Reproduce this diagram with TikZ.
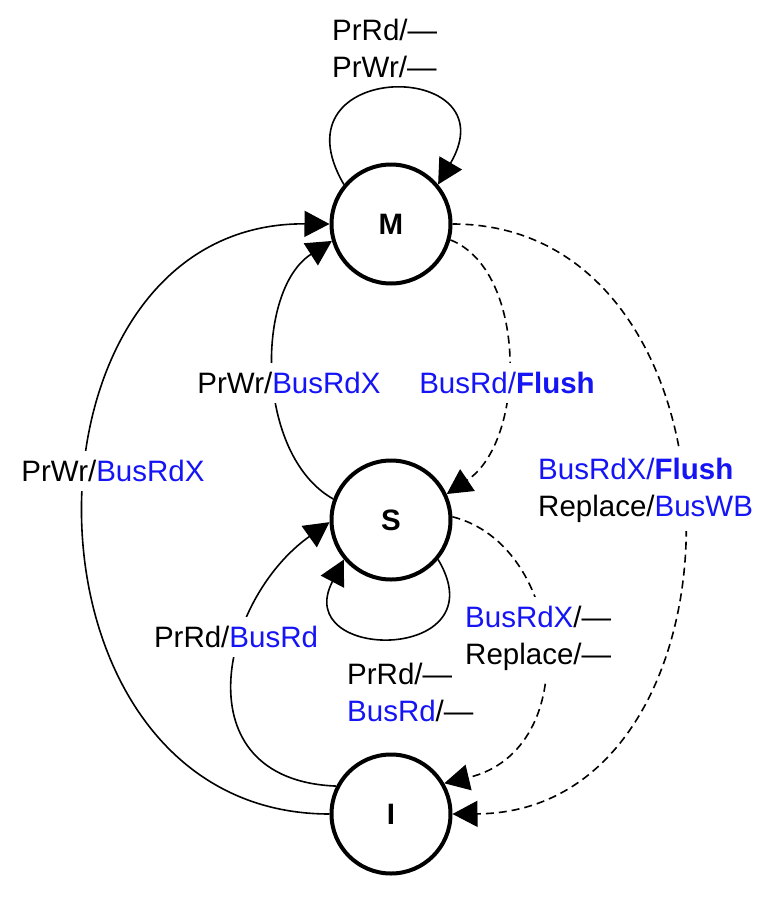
\documentclass[tikz,border=0pt]{standalone}
\usepackage{fontspec}
\setmainfont{Liberation Sans}
\usetikzlibrary{arrows.meta}
\definecolor{busblue}{RGB}{20,20,245}
\newcommand{\bus}[1]{\textcolor{busblue}{#1}}

\begin{document}
\begin{tikzpicture}[x=1pt,y=-1pt,
    state/.style={circle,draw,line width=4pt,minimum size=119pt,inner sep=0pt,
        font=\fontsize{29.5}{37}\selectfont\bfseries},
    trans/.style={line width=1.6pt,-{Triangle[length=25pt,width=26pt]}},
    snoop/.style={trans,dash pattern=on 8pt off 5pt},
    lbl/.style={fill=white,inner xsep=1pt,inner ysep=9pt,
        font=\fontsize{29.5}{37}\selectfont}]
    \useasboundingbox (0,0) rectangle (758,908);

    % states
    \node[state] (M) at (391,224) {M};
    \node[state] (S) at (391,520) {S};
    \node[state] (I) at (391,814) {I};

    % processor side
    \draw[trans] (M.140) .. controls (270,58) and (512,58) .. (M.40);
    \draw[trans] (S.160) .. controls (255,455) and (255,290) .. (M.196);
    \draw[trans] (I.180) .. controls (3,814) and (3,222) .. (M.180);
    \draw[trans] (I.153) .. controls (180,780) and (220,600) .. (S.182);
    \draw[trans] (S.-40) .. controls (500,663) and (290,663) .. (S.-140);

    % bus side
    \draw[snoop] (M.-15) .. controls (527,270) and (527,440) .. (S.25);
    \draw[snoop] (S.3) .. controls (565,545) and (585,750) .. (I.30);
    \draw[snoop] (M.0) .. controls (760,224) and (760,812) .. (I.0);

    % labels
    \node[lbl,fill=none,align=left,anchor=west] (lMloop) at (331,48) {PrRd/—\\PrWr/—};
    \node[lbl] (lSM) at (289,383) {PrWr/\bus{BusRdX}};
    \node[lbl] (lIM) at (113,471) {PrWr/\bus{BusRdX}};
    \node[lbl] (lIS) at (236,637) {PrRd/\bus{BusRd}};
    \node[lbl,fill=none,align=left,anchor=west] (lSloop) at (346,692) {PrRd/—\\\bus{BusRd}/—};
    \node[lbl] (lMS) at (507,383) {\bus{BusRd/\textbf{Flush}}};
    \node[lbl,align=left,anchor=west] (lMI) at (537,490) {\bus{BusRdX/\textbf{Flush}}\\Replace/\bus{BusWB}};
    \node[lbl,align=left,anchor=west] (lSI) at (464,638) {\bus{BusRdX}/—\\Replace/—};
\end{tikzpicture}
\end{document}
